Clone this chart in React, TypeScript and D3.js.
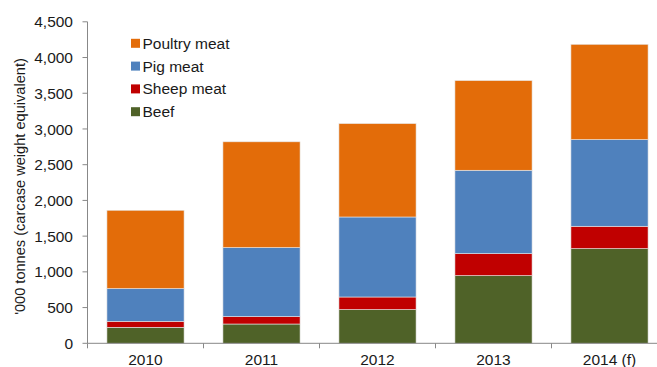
import React from "react";
import * as d3 from "d3";

const years = ["2010", "2011", "2012", "2013", "2014 (f)"];
const beef = [224, 270, 472, 947, 1325];
const sheep = [84, 104, 176, 308, 313];
const pig = [458, 966, 1120, 1167, 1213];
const poultry = [1096, 1480, 1307, 1255, 1334];
const seriesNames = ["Beef", "Sheep meat", "Pig meat", "Poultry meat"];
const seriesColors = ["#4F6228", "#C00000", "#4F81BD", "#E36C09"];
const yTicks = [0, 500, 1000, 1500, 2000, 2500, 3000, 3500, 4000, 4500];
const yTitle = "'000 tonnes (carcase weight equivalent)";

const W = 657;
const H = 367;
const FONT = "'Liberation Sans', Arial, sans-serif";

export default function App() {
  const x0 = 87.5;
  const bandW = 116;
  const x = d3
    .scaleBand<string>()
    .domain(years)
    .range([x0, x0 + bandW * years.length])
    .paddingInner(0.335)
    .paddingOuter(0.1675);
  const y = d3.scaleLinear().domain([0, 4500]).range([343.3, 21.8]);

  const rows = years.map((yr, i) => ({
    year: yr,
    Beef: beef[i],
    "Sheep meat": sheep[i],
    "Pig meat": pig[i],
    "Poultry meat": poultry[i],
  }));
  const stack = d3.stack<any>().keys(seriesNames)(rows);

  const boundaries = d3.range(years.length + 1).map((i) => x0 + i * bandW);
  const legendOrder = [3, 2, 1, 0];

  return (
    <svg
      width={W}
      height={H}
      style={{ position: "absolute", left: 0, top: 0, background: "#fff" }}
      fontFamily={FONT}
    >
      {/* bars */}
      {stack.map((s, si) => (
        <g key={s.key} fill={seriesColors[si]}>
          {s.map((d, i) => (
            <rect
              key={i}
              x={x(years[i])!}
              width={x.bandwidth()}
              y={y(d[1])}
              height={y(d[0]) - y(d[1])}
              stroke="#e6e6e6"
              strokeWidth={0.6}
            />
          ))}
        </g>
      ))}

      {/* y axis */}
      <line x1={x0} x2={x0} y1={y(4500)} y2={y(0)} stroke="#888" strokeWidth={1} />
      {yTicks.map((t) => (
        <g key={t}>
          <line x1={x0 - 5} x2={x0} y1={y(t)} y2={y(t)} stroke="#888" strokeWidth={1} />
          <text
            x={73}
            y={y(t)}
            dy="0.36em"
            textAnchor="end"
            fontSize={15.5}
            fill="#1a1a1a"
          >
            {d3.format(",")(t)}
          </text>
        </g>
      ))}

      {/* x axis */}
      <line x1={x0} x2={W} y1={y(0)} y2={y(0)} stroke="#888" strokeWidth={1} />
      {boundaries.map((b, i) => (
        <line key={i} x1={b} x2={b} y1={y(0)} y2={y(0) + 5} stroke="#888" strokeWidth={1} />
      ))}
      {years.map((yr) => (
        <text
          key={yr}
          x={x(yr)! + x.bandwidth() / 2}
          y={364.5}
          textAnchor="middle"
          fontSize={15.5}
          fill="#1a1a1a"
        >
          {yr}
        </text>
      ))}

      {/* y title */}
      <text
        transform={`translate(24.5, 186.5) rotate(-90)`}
        textAnchor="middle"
        fontSize={14.6}
        fill="#1a1a1a"
      >
        {yTitle}
      </text>

      {/* legend */}
      {legendOrder.map((si, k) => {
        const cy = 43.3 + k * 22.8;
        return (
          <g key={si}>
            <rect x={131} y={cy - 4.5} width={9} height={9} fill={seriesColors[si]} />
            <text x={142.5} y={cy} dy="0.36em" fontSize={15.5} fill="#1a1a1a">
              {seriesNames[si]}
            </text>
          </g>
        );
      })}
    </svg>
  );
}
